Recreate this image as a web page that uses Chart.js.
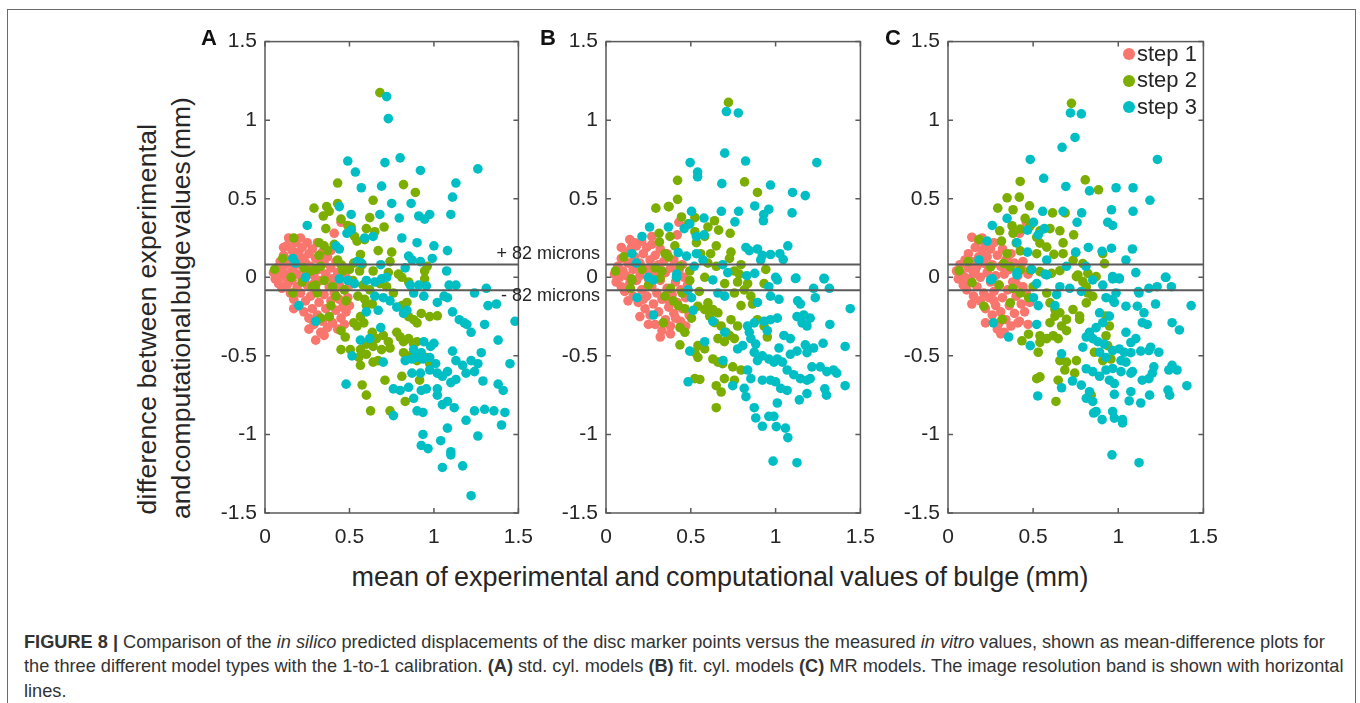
<!DOCTYPE html>
<html><head><meta charset="utf-8">
<script src="https://cdn.jsdelivr.net/npm/chart.js@4/dist/chart.umd.min.js"></script>
<style>
html,body{margin:0;padding:0;background:#fff;}
body{width:1360px;height:703px;overflow:hidden;position:relative;font-family:'Liberation Sans',Arial,sans-serif;color:#262626;}
#frame{position:absolute;left:7px;top:9px;width:1347px;height:740px;border:1.5px solid #6a6a6a;}
.panel{position:absolute;}
.txt{position:absolute;white-space:nowrap;line-height:1;color:#262626;}
.letter{font-weight:bold;font-size:22px;color:#111;}
.band{font-size:18px;text-align:right;width:140px;}
.ytitle{font-size:26.5px;transform:translate(-50%,-50%) rotate(-90deg);}
.xtitle{font-size:27px;word-spacing:-1.3px;transform:translateX(-50%);}
.leg{font-size:22px;}
.dot{position:absolute;width:12px;height:12px;border-radius:50%;}
#caption{position:absolute;left:24px;top:629.5px;font-size:18.2px;line-height:24.5px;color:#333;white-space:nowrap;}
</style></head><body>
<div id="frame"></div>
<div class="panel" id="pA"><canvas id="cA"></canvas></div>
<div class="panel" id="pB"><canvas id="cB"></canvas></div>
<div class="panel" id="pC"><canvas id="cC"></canvas></div>

<div class="txt letter" style="left:201px;top:27px;">A</div>
<div class="txt letter" style="left:540px;top:27px;">B</div>
<div class="txt letter" style="left:885px;top:27px;">C</div>

<div class="txt band" style="left:460px;top:244px;">+ 82 microns</div>
<div class="txt band" style="left:460px;top:286px;">- 82 microns</div>

<div class="txt ytitle" style="left:147px;top:319px;letter-spacing:0.27px;">difference between experimental</div>
<div class="txt ytitle" style="left:181px;top:308px;word-spacing:-5px;">and computational bulge values (mm)</div>
<div class="txt xtitle" style="left:720px;top:564px;">mean of experimental and computational values of bulge (mm)</div>

<div id="legend"></div>

<div id="caption"><b>FIGURE 8 |</b> Comparison of the <i>in silico</i> predicted displacements of the disc marker points versus the measured <i>in vitro</i> values, shown as mean-difference plots for<br>the three different model types with the 1-to-1 calibration. <b>(A)</b> std. cyl. models <b>(B)</b> fit. cyl. models <b>(C)</b> MR models. The image resolution band is shown with horizontal<br>lines.</div>

<script>
// ---------- data ----------
const seriesNames = ['step 1', 'step 2', 'step 3'];
const seriesColors = ['#F8766D', '#7CAE00', '#00BFC4'];
const xTickValues = [0, 0.5, 1, 1.5];
const xTickLabels = ['0', '0.5', '1', '1.5'];
const yTickValues = [-1.5, -1, -0.5, 0, 0.5, 1, 1.5];
const yTickLabels = ['-1.5', '-1', '-0.5', '0', '0.5', '1', '1.5'];
const resolutionBand = [0.082, -0.082];
const bandLabels = ['+ 82 microns', '- 82 microns'];

const panelA_step1 = [[0.05,0.03],[0.06,-0.01],[0.07,0.06],[0.08,0.01],[0.08,-0.04],[0.09,0.1],[0.1,0.04],[0.1,-0.07],[0.11,0.14],[0.12,0.0],[0.12,0.08],[0.13,-0.05],[0.13,0.2],[0.14,0.25],[0.14,0.11],[0.15,-0.1],[0.15,0.03],[0.16,0.17],[0.16,-0.02],[0.17,0.07],[0.17,-0.14],[0.18,0.22],[0.18,0.12],[0.19,-0.06],[0.19,0.02],[0.2,0.16],[0.2,-0.18],[0.21,0.25],[0.21,0.08],[0.21,-0.1],[0.22,-0.01],[0.22,0.19],[0.23,-0.22],[0.23,0.12],[0.24,0.04],[0.24,-0.15],[0.25,0.22],[0.25,-0.05],[0.26,-0.26],[0.26,0.15],[0.27,0.07],[0.27,-0.12],[0.28,-0.2],[0.28,0.18],[0.29,0.01],[0.29,-0.3],[0.3,0.12],[0.3,-0.08],[0.31,-0.24],[0.31,0.22],[0.32,0.05],[0.32,-0.16],[0.33,-0.35],[0.33,-0.02],[0.34,0.16],[0.34,-0.28],[0.35,0.09],[0.35,-0.11],[0.36,-0.2],[0.36,0.02],[0.37,-0.32],[0.37,0.13],[0.38,-0.06],[0.38,-0.25],[0.39,0.06],[0.39,-0.15],[0.4,-0.01],[0.4,-0.29],[0.41,0.28],[0.41,-0.1],[0.42,0.1],[0.42,-0.21],[0.43,-0.33],[0.43,0.03],[0.44,-0.14],[0.44,-0.05],[0.45,0.35],[0.45,-0.26],[0.46,0.07],[0.46,-0.19],[0.47,-0.08],[0.47,-0.3],[0.48,0.0],[0.48,-0.22],[0.49,-0.13],[0.5,-0.18],[0.3,-0.4],[0.35,-0.37],[0.26,-0.33],[0.5,-0.05],[0.11,0.19],[0.17,-0.2],[0.24,0.09],[0.39,0.17],[0.14,-0.01],[0.29,-0.04],[0.42,-0.04],[0.33,0.1]];
const panelA_step2 = [[0.68,1.175],[0.43,0.60],[0.82,0.59],[0.89,0.54],[0.64,0.49],[0.29,0.44],[0.365,0.45],[0.345,0.39],[0.38,0.42],[0.43,0.47],[0.45,0.37],[0.49,0.33],[0.51,0.32],[0.62,0.38],[0.705,0.32],[0.36,0.31],[0.60,0.31],[0.65,0.29],[0.53,0.26],[0.545,0.23],[0.59,0.24],[0.17,0.25],[0.32,0.22],[0.35,0.20],[0.37,0.17],[0.32,0.14],[0.41,0.21],[0.43,0.11],[0.45,0.08],[0.67,0.17],[0.75,0.16],[0.74,0.10],[0.565,0.145],[0.525,0.09],[0.575,0.08],[0.96,0.07],[0.945,0.04],[0.105,0.12],[0.057,0.05],[0.23,0.06],[0.27,0.04],[0.30,0.05],[0.33,0.07],[0.46,0.04],[0.50,0.05],[0.56,0.04],[0.64,0.04],[0.73,0.03],[0.79,0.02],[0.155,0.0],[0.165,-0.10],[0.30,-0.05],[0.31,-0.10],[0.39,-0.18],[0.33,-0.26],[0.38,-0.25],[0.45,-0.34],[0.475,-0.38],[0.45,-0.46],[0.505,-0.46],[0.525,-0.29],[0.545,-0.31],[0.585,-0.29],[0.565,-0.25],[0.60,-0.18],[0.59,-0.14],[0.635,-0.17],[0.635,-0.35],[0.66,-0.39],[0.70,-0.37],[0.73,-0.41],[0.74,-0.45],[0.69,-0.46],[0.64,-0.44],[0.60,-0.425],[0.565,-0.46],[0.60,-0.49],[0.555,-0.51],[0.565,-0.56],[0.64,-0.54],[0.67,-0.53],[0.78,-0.35],[0.80,-0.38],[0.82,-0.41],[0.85,-0.39],[0.88,-0.425],[0.90,-0.41],[0.82,-0.48],[0.86,-0.50],[0.90,-0.53],[0.955,-0.51],[0.975,-0.55],[0.81,-0.18],[0.84,-0.16],[0.85,-0.25],[0.88,-0.27],[0.90,-0.29],[0.925,-0.23],[0.975,-0.25],[1.02,-0.245],[0.945,-0.01],[0.81,0.0],[0.85,-0.03],[0.575,-0.685],[0.60,-0.75],[0.625,-0.85],[0.71,-0.655],[0.81,-0.63],[0.915,-0.655],[0.83,-0.79],[0.74,-0.85],[0.22,-0.03],[0.28,-0.06],[0.35,-0.02],[0.40,-0.06],[0.47,-0.08],[0.52,-0.02],[0.58,-0.05],[0.62,-0.08],[0.68,-0.04],[0.72,-0.06],[0.76,-0.10],[0.55,-0.12],[0.48,-0.15],[0.42,-0.12]];
const panelA_step3 = [[0.72,1.15],[0.73,1.01],[0.49,0.74],[0.71,0.73],[0.80,0.76],[0.535,0.67],[0.92,0.68],[1.26,0.69],[1.13,0.60],[0.57,0.57],[0.69,0.58],[1.11,0.51],[0.75,0.47],[0.865,0.47],[0.44,0.45],[0.51,0.40],[0.68,0.40],[0.795,0.377],[0.91,0.39],[0.945,0.37],[0.975,0.40],[1.10,0.40],[0.25,0.33],[0.485,0.28],[0.51,0.30],[0.59,0.25],[0.64,0.26],[0.81,0.25],[0.90,0.22],[1.0,0.20],[1.08,0.17],[0.44,0.18],[0.42,0.20],[0.85,0.135],[0.87,0.11],[0.92,0.10],[0.99,0.12],[0.545,0.10],[0.57,0.09],[0.165,0.12],[0.18,0.09],[0.685,0.08],[1.075,0.04],[0.83,0.06],[0.24,0.0],[0.20,-0.18],[0.30,-0.28],[0.44,-0.01],[0.49,-0.02],[0.53,-0.04],[0.60,-0.02],[0.65,-0.03],[0.69,-0.01],[0.72,0.0],[0.65,-0.12],[0.70,-0.13],[0.74,-0.15],[0.78,-0.19],[0.82,-0.23],[0.84,-0.21],[0.86,-0.05],[0.91,-0.05],[0.955,-0.055],[0.88,-0.10],[0.94,-0.12],[1.02,-0.16],[1.06,-0.12],[1.08,-0.13],[1.09,-0.05],[1.13,-0.05],[1.11,-0.22],[1.15,-0.27],[1.18,-0.29],[1.195,-0.30],[1.22,-0.35],[1.24,-0.10],[1.31,-0.07],[1.32,-0.18],[1.37,-0.17],[1.30,-0.30],[1.38,-0.40],[1.48,-0.28],[0.60,-0.22],[0.67,-0.21],[0.685,-0.32],[0.565,-0.40],[0.62,-0.39],[0.515,-0.50],[0.70,-0.54],[0.83,-0.53],[0.87,-0.52],[0.90,-0.51],[0.935,-0.52],[0.975,-0.51],[1.01,-0.55],[0.88,-0.46],[0.925,-0.48],[0.98,-0.44],[1.0,-0.42],[0.94,-0.41],[0.87,-0.61],[0.92,-0.61],[0.975,-0.59],[1.02,-0.61],[1.05,-0.63],[1.08,-0.60],[1.10,-0.67],[1.13,-0.65],[1.11,-0.47],[1.13,-0.53],[1.17,-0.56],[1.22,-0.53],[1.26,-0.55],[1.24,-0.60],[1.28,-0.48],[1.19,-0.61],[1.29,-0.66],[1.38,-0.68],[1.41,-0.72],[1.45,-0.55],[0.76,-0.71],[0.80,-0.72],[0.85,-0.70],[0.88,-0.77],[0.925,-0.72],[0.955,-0.71],[1.02,-0.71],[1.02,-0.75],[1.05,-0.81],[1.08,-0.79],[1.12,-0.83],[0.76,-0.88],[0.90,-0.85],[0.935,-0.86],[1.19,-0.91],[1.24,-0.85],[1.30,-0.84],[1.355,-0.85],[1.42,-0.86],[1.40,-0.94],[1.08,-0.96],[0.935,-1.0],[1.26,-1.01],[0.925,-1.07],[0.965,-1.09],[1.04,-1.04],[1.10,-1.11],[1.10,-1.13],[1.17,-1.20],[1.05,-1.21],[1.22,-1.39],[0.48,-0.68]];

const panelB_step1 = [[0.05,0.02],[0.06,-0.03],[0.07,0.07],[0.08,0.0],[0.09,-0.06],[0.09,0.12],[0.1,0.04],[0.11,-0.09],[0.12,0.16],[0.12,0.01],[0.13,0.09],[0.14,-0.04],[0.14,0.24],[0.15,0.19],[0.16,-0.12],[0.16,0.05],[0.17,0.13],[0.18,-0.02],[0.18,0.2],[0.19,-0.16],[0.2,0.09],[0.2,0.01],[0.21,0.23],[0.21,-0.08],[0.22,0.15],[0.23,-0.2],[0.23,0.05],[0.24,-0.12],[0.24,0.19],[0.25,-0.01],[0.26,0.11],[0.26,-0.24],[0.27,-0.06],[0.27,0.21],[0.28,0.03],[0.28,-0.17],[0.29,-0.3],[0.29,0.14],[0.3,-0.1],[0.31,0.08],[0.31,-0.22],[0.32,-0.02],[0.32,0.18],[0.33,-0.34],[0.33,-0.14],[0.34,0.1],[0.35,-0.27],[0.35,0.03],[0.36,-0.07],[0.36,0.15],[0.37,-0.19],[0.38,0.06],[0.38,-0.31],[0.39,-0.11],[0.4,0.11],[0.4,-0.23],[0.41,-0.03],[0.42,0.27],[0.42,-0.16],[0.43,0.35],[0.43,0.04],[0.44,-0.28],[0.44,-0.08],[0.45,-0.2],[0.46,0.0],[0.47,-0.13],[0.47,-0.31],[0.48,-0.05],[0.49,-0.24],[0.25,-0.3],[0.32,-0.38],[0.38,-0.36],[0.2,-0.25],[0.45,0.08],[0.13,-0.15],[0.27,0.26],[0.09,0.19],[0.17,0.22],[0.22,-0.14],[0.3,0.04],[0.36,-0.14],[0.41,-0.26],[0.15,0.09],[0.26,0.06]];
const panelB_step2 = [[0.722,1.113],[0.422,0.617],[0.817,0.607],[0.893,0.54],[0.422,0.496],[0.294,0.44],[0.368,0.45],[0.372,0.45],[0.445,0.384],[0.524,0.38],[0.484,0.34],[0.64,0.36],[0.601,0.32],[0.664,0.30],[0.732,0.28],[0.313,0.28],[0.377,0.26],[0.524,0.29],[0.533,0.22],[0.582,0.26],[0.65,0.20],[0.315,0.225],[0.406,0.2],[0.348,0.15],[0.368,0.13],[0.617,0.15],[0.737,0.16],[0.728,0.12],[0.558,0.15],[0.601,0.09],[0.65,0.07],[0.796,0.08],[0.757,0.04],[0.786,0.02],[0.942,0.05],[0.056,0.04],[0.105,0.13],[0.15,-0.01],[0.212,0.05],[0.29,0.06],[0.33,0.04],[0.436,0.07],[0.494,0.04],[0.153,-0.02],[0.144,-0.07],[0.319,-0.005],[0.338,-0.29],[0.436,-0.32],[0.465,-0.35],[0.436,-0.43],[0.348,-0.12],[0.397,-0.15],[0.426,-0.18],[0.465,-0.20],[0.504,-0.26],[0.542,-0.184],[0.582,-0.205],[0.601,-0.163],[0.63,-0.205],[0.66,-0.226],[0.611,-0.247],[0.64,-0.289],[0.679,-0.31],[0.708,-0.35],[0.728,-0.37],[0.757,-0.39],[0.698,-0.41],[0.66,-0.39],[0.542,-0.435],[0.524,-0.477],[0.542,-0.51],[0.582,-0.456],[0.63,-0.52],[0.66,-0.54],[0.688,-0.55],[0.524,-0.645],[0.553,-0.65],[0.698,-0.645],[0.757,-0.655],[0.65,-0.69],[0.679,-0.73],[0.65,-0.83],[0.747,-0.57],[0.796,-0.59],[0.737,-0.27],[0.776,-0.31],[0.796,-0.18],[0.854,-0.12],[0.864,-0.17],[0.757,-0.10],[0.815,-0.08],[0.835,-0.04],[0.776,-0.03],[0.932,-0.04],[0.893,-0.27],[0.932,-0.31],[0.951,-0.38],[0.416,0.0],[0.494,-0.02],[0.582,0.0],[0.70,-0.04],[0.25,-0.05],[0.38,-0.07],[0.55,-0.09],[0.45,-0.1]];
const panelB_step3 = [[0.71,1.055],[0.78,1.046],[0.70,0.79],[0.496,0.73],[0.823,0.74],[1.243,0.73],[0.54,0.67],[0.54,0.64],[0.683,0.596],[0.97,0.587],[1.10,0.54],[1.175,0.52],[0.504,0.42],[0.877,0.454],[0.96,0.433],[0.93,0.40],[0.928,0.36],[0.782,0.42],[1.097,0.41],[0.68,0.42],[0.578,0.377],[0.76,0.353],[0.257,0.32],[0.368,0.32],[0.461,0.31],[0.494,0.34],[0.212,0.26],[0.533,0.26],[0.578,0.27],[0.825,0.19],[0.845,0.17],[0.893,0.18],[1.072,0.2],[0.922,0.14],[0.97,0.145],[1.025,0.15],[1.045,0.113],[0.912,0.11],[0.426,0.157],[0.475,0.135],[0.533,0.15],[0.572,0.11],[0.153,0.15],[0.179,0.09],[0.688,0.08],[0.718,0.03],[0.83,0.01],[0.877,0.025],[1.0,0.0],[1.12,-0.005],[1.286,-0.01],[0.25,0.0],[0.417,0.02],[0.52,0.07],[0.28,-0.017],[0.183,-0.13],[0.28,-0.24],[0.416,0.0],[0.484,-0.08],[0.504,-0.13],[0.514,-0.21],[0.494,-0.47],[0.582,-0.41],[0.63,-0.017],[0.66,-0.10],[0.70,-0.12],[0.63,-0.28],[0.70,-0.35],[0.69,-0.53],[0.747,-0.69],[0.484,-0.665],[0.776,-0.456],[0.806,-0.435],[0.845,-0.35],[0.854,-0.39],[0.883,-0.425],[0.874,-0.477],[0.893,-0.53],[0.922,-0.50],[0.96,-0.52],[0.99,-0.54],[0.835,-0.31],[0.874,-0.29],[0.932,-0.28],[0.951,-0.34],[0.97,-0.27],[1.01,-0.26],[0.893,-0.16],[0.97,-0.12],[1.02,-0.14],[1.01,-0.017],[0.96,-0.06],[1.117,-0.008],[1.13,-0.15],[1.146,-0.17],[1.126,-0.25],[1.166,-0.24],[1.156,-0.29],[1.185,-0.31],[1.204,-0.26],[1.224,-0.07],[1.234,-0.13],[1.286,-0.006],[1.317,-0.07],[1.32,-0.30],[1.44,-0.20],[1.41,-0.44],[1.28,-0.42],[1.049,-0.37],[1.087,-0.39],[1.02,-0.45],[1.087,-0.49],[1.126,-0.47],[1.175,-0.43],[1.185,-0.48],[1.224,-0.45],[1.214,-0.57],[1.263,-0.57],[1.302,-0.60],[1.341,-0.59],[1.36,-0.61],[1.41,-0.69],[1.01,-0.52],[1.04,-0.54],[1.068,-0.59],[1.107,-0.62],[1.146,-0.645],[1.185,-0.655],[1.204,-0.645],[0.835,-0.59],[0.854,-0.645],[0.815,-0.707],[0.825,-0.76],[0.874,-0.83],[0.883,-0.895],[0.922,-0.948],[0.922,-0.655],[0.97,-0.655],[1.0,-0.665],[1.03,-0.707],[1.068,-0.72],[1.01,-0.80],[0.96,-0.885],[0.99,-0.885],[1.14,-0.78],[1.185,-0.74],[1.29,-0.71],[1.30,-0.75],[1.004,-0.95],[1.058,-0.96],[1.072,-1.02],[0.985,-1.17],[1.126,-1.18]];

const panelC_step1 = [[0.05,0.04],[0.06,-0.01],[0.07,0.08],[0.08,0.02],[0.09,-0.05],[0.1,0.11],[0.1,0.0],[0.11,-0.08],[0.12,0.06],[0.12,0.15],[0.13,-0.03],[0.14,0.255],[0.14,0.1],[0.15,-0.12],[0.15,0.02],[0.16,0.19],[0.17,0.07],[0.17,-0.06],[0.18,0.23],[0.18,0.13],[0.19,-0.15],[0.19,0.0],[0.2,0.17],[0.21,0.09],[0.21,-0.1],[0.22,0.21],[0.22,-0.2],[0.23,0.03],[0.23,0.13],[0.24,-0.13],[0.25,0.18],[0.25,-0.03],[0.26,-0.24],[0.26,0.08],[0.27,0.22],[0.27,-0.09],[0.28,0.01],[0.28,-0.18],[0.29,0.14],[0.3,-0.29],[0.3,-0.05],[0.31,0.07],[0.31,-0.22],[0.32,0.18],[0.32,-0.13],[0.33,-0.35],[0.33,0.02],[0.34,0.11],[0.34,-0.27],[0.35,-0.08],[0.36,0.05],[0.36,-0.18],[0.37,0.15],[0.37,-0.31],[0.38,-0.03],[0.39,-0.23],[0.39,0.09],[0.4,-0.12],[0.41,0.01],[0.42,0.28],[0.42,-0.28],[0.43,-0.17],[0.43,0.06],[0.44,-0.06],[0.45,-0.22],[0.46,0.35],[0.46,-0.1],[0.47,0.02],[0.47,-0.3],[0.48,-0.16],[0.22,-0.29],[0.31,-0.36],[0.41,-0.29],[0.14,-0.17],[0.2,0.25],[0.44,0.1],[0.29,-0.33],[0.16,0.04],[0.24,0.06],[0.35,0.13],[0.27,-0.15],[0.4,-0.04]];
const panelC_step2 = [[0.725,1.107],[0.424,0.61],[0.806,0.62],[0.884,0.557],[0.347,0.506],[0.419,0.51],[0.292,0.44],[0.382,0.43],[0.479,0.455],[0.614,0.41],[0.688,0.41],[0.453,0.375],[0.376,0.328],[0.424,0.307],[0.483,0.328],[0.54,0.296],[0.599,0.31],[0.657,0.296],[0.738,0.27],[0.304,0.296],[0.382,0.28],[0.314,0.23],[0.401,0.219],[0.347,0.15],[0.424,0.168],[0.521,0.255],[0.54,0.217],[0.58,0.192],[0.676,0.219],[0.521,0.15],[0.622,0.146],[0.676,0.15],[0.75,0.157],[0.735,0.108],[0.792,0.087],[0.919,0.087],[0.909,0.15],[0.182,0.24],[0.118,0.10],[0.066,0.042],[0.25,0.067],[0.327,0.088],[0.366,0.067],[0.424,0.046],[0.483,0.046],[0.54,0.036],[0.608,0.025],[0.657,0.042],[0.763,0.015],[0.821,0.025],[0.141,-0.034],[0.211,-0.184],[0.318,-0.268],[0.366,-0.163],[0.424,-0.10],[0.473,-0.13],[0.434,-0.404],[0.473,-0.362],[0.54,-0.414],[0.53,-0.477],[0.54,-0.372],[0.58,-0.39],[0.618,-0.372],[0.647,-0.39],[0.599,-0.289],[0.628,-0.247],[0.667,-0.31],[0.696,-0.34],[0.58,-0.10],[0.599,-0.163],[0.628,-0.205],[0.657,-0.226],[0.696,-0.268],[0.734,-0.205],[0.773,-0.247],[0.812,-0.163],[0.821,-0.10],[0.85,-0.121],[0.792,-0.027],[0.812,-0.06],[0.87,0.004],[0.754,0.004],[0.657,-0.53],[0.696,-0.54],[0.686,-0.59],[0.754,-0.53],[0.744,-0.61],[0.647,-0.655],[0.54,-0.634],[0.521,-0.645],[0.634,-0.79],[0.928,-0.247],[0.948,-0.31],[0.928,-0.372],[0.938,-0.435],[0.957,-0.52],[0.909,-0.53],[0.86,-0.477],[0.841,-0.75],[0.773,-0.268],[0.3,-0.05],[0.38,-0.07],[0.5,-0.06]];
const panelC_step3 = [[0.719,1.046],[0.783,1.04],[0.746,0.89],[0.67,0.827],[0.483,0.75],[1.23,0.75],[0.562,0.63],[0.692,0.578],[0.831,0.55],[0.987,0.57],[1.087,0.57],[1.186,0.49],[0.556,0.42],[0.676,0.42],[0.785,0.41],[0.96,0.43],[1.087,0.42],[0.347,0.375],[0.26,0.33],[0.502,0.35],[0.467,0.30],[0.566,0.31],[0.53,0.27],[0.758,0.35],[0.938,0.35],[0.967,0.33],[0.405,0.22],[0.467,0.16],[0.23,0.23],[0.824,0.19],[0.905,0.165],[0.96,0.185],[1.083,0.18],[1.045,0.11],[1.103,0.03],[1.277,0.0],[0.75,0.16],[0.81,0.07],[0.58,0.11],[0.696,0.07],[0.57,0.02],[0.182,0.11],[0.26,-0.01],[0.405,0.03],[0.492,0.05],[0.967,-0.01],[1.006,-0.01],[0.25,-0.017],[0.405,0.015],[0.521,-0.04],[0.502,-0.13],[0.53,-0.18],[0.266,-0.29],[0.356,-0.38],[0.521,-0.30],[0.483,-0.435],[0.58,0.015],[0.657,-0.06],[0.638,-0.11],[0.628,-0.18],[0.715,-0.07],[0.783,-0.09],[0.85,-0.017],[0.909,-0.05],[0.928,-0.13],[0.967,0.005],[1.006,-0.005],[0.987,-0.1],[0.977,-0.16],[0.89,-0.226],[0.948,-0.247],[0.909,-0.289],[0.87,-0.32],[0.831,-0.35],[0.812,-0.38],[0.792,-0.445],[0.85,-0.39],[0.88,-0.41],[0.918,-0.425],[0.89,-0.477],[0.928,-0.51],[0.967,-0.466],[1.006,-0.456],[1.035,-0.477],[1.074,-0.48],[1.132,-0.47],[1.18,-0.466],[1.238,-0.477],[1.016,-0.53],[1.045,-0.54],[1.045,-0.35],[1.074,-0.415],[1.103,-0.39],[1.19,-0.445],[0.967,-0.142],[1.045,-0.184],[1.122,-0.10],[1.112,-0.184],[1.141,-0.289],[1.17,-0.30],[1.151,-0.226],[1.219,-0.17],[1.316,-0.289],[1.359,-0.335],[1.428,-0.18],[1.28,0.0],[1.312,-0.06],[1.18,-0.07],[1.228,-0.06],[1.118,-0.09],[0.667,-0.487],[0.812,-0.582],[0.85,-0.60],[0.89,-0.63],[0.928,-0.59],[0.967,-0.58],[1.016,-0.60],[1.074,-0.61],[1.083,-0.60],[1.141,-0.655],[1.18,-0.645],[1.2,-0.61],[1.209,-0.57],[1.297,-0.59],[1.316,-0.56],[1.345,-0.59],[1.403,-0.69],[0.667,-0.703],[0.731,-0.66],[0.783,-0.686],[0.831,-0.728],[0.812,-0.77],[0.85,-0.79],[0.948,-0.655],[0.977,-0.676],[0.977,-0.745],[1.074,-0.728],[1.064,-0.787],[1.132,-0.80],[1.184,-0.75],[1.292,-0.718],[1.302,-0.75],[0.527,-0.755],[0.855,-0.864],[0.87,-0.854],[0.905,-0.906],[0.967,-0.854],[0.977,-0.896],[1.025,-0.906],[1.025,-0.927],[0.963,-1.13],[1.122,-1.18]];

// ---------- drawing ----------
Chart.defaults.font.family = "'Liberation Sans', Arial, sans-serif";

const boxPlugin = {
  id: 'matlabBox',
  afterDatasetsDraw(chart) {
    const {ctx, chartArea: a, scales: {x, y}} = chart;
    ctx.save();
    ctx.strokeStyle = '#5a5a5a';
    ctx.lineWidth = 1.5;
    ctx.strokeRect(a.left, a.top, a.right - a.left, a.bottom - a.top);
    const L = 5;
    ctx.beginPath();
    xTickValues.forEach(v => {
      const px = x.getPixelForValue(v);
      ctx.moveTo(px, a.bottom); ctx.lineTo(px, a.bottom - L);
      ctx.moveTo(px, a.top); ctx.lineTo(px, a.top + L);
    });
    yTickValues.forEach(v => {
      const py = y.getPixelForValue(v);
      ctx.moveTo(a.left, py); ctx.lineTo(a.left + L, py);
      ctx.moveTo(a.right, py); ctx.lineTo(a.right - L, py);
    });
    ctx.stroke();
    ctx.restore();
  }
};

function toXY(arr) { return arr.map(p => ({x: p[0], y: p[1]})); }

function makePanel(divId, canvasId, plotLeft, plotWidth, series) {
  const yAxisW = 62, padTop = 14, padRight = 24, xAxisH = 42;
  const W = plotWidth + yAxisW + padRight;
  const H = 478 + padTop + xAxisH;
  const div = document.getElementById(divId);
  div.style.left = (plotLeft - yAxisW) + 'px';
  div.style.top = (35 - padTop) + 'px';
  const cv = document.getElementById(canvasId);
  cv.width = W; cv.height = H;
  cv.style.width = W + 'px'; cv.style.height = H + 'px';

  const datasets = [];
  resolutionBand.forEach(v => {
    datasets.push({
      label: 'band', data: [{x: 0, y: v}, {x: 1.5, y: v}], showLine: true,
      borderColor: '#5a5a5a', borderWidth: 2, pointRadius: 0, order: 0
    });
  });
  series.forEach((s, i) => {
    datasets.push({
      label: seriesNames[i], data: toXY(s), backgroundColor: seriesColors[i],
      borderWidth: 0, pointRadius: 4.8, pointHoverRadius: 4.8, order: 3 - i
    });
  });

  new Chart(cv, {
    type: 'scatter',
    data: {datasets},
    options: {
      responsive: false, animation: false, devicePixelRatio: 1, events: [],
      layout: {padding: {top: padTop, right: padRight, left: 0, bottom: 0}},
      plugins: {legend: {display: false}, tooltip: {enabled: false}},
      scales: {
        x: {
          type: 'linear', min: 0, max: 1.5,
          grid: {display: false, drawTicks: false}, border: {display: false},
          afterFit: s => { s.height = xAxisH; },
          afterBuildTicks: s => { s.ticks = xTickValues.map(v => ({value: v})); },
          ticks: {
            padding: 12, color: '#262626', font: {size: 21},
            maxRotation: 0, autoSkip: false,
            callback: v => xTickLabels[xTickValues.findIndex(t => Math.abs(t - v) < 1e-9)]
          }
        },
        y: {
          type: 'linear', min: -1.5, max: 1.5,
          grid: {display: false, drawTicks: false}, border: {display: false},
          afterFit: s => { s.width = yAxisW; },
          afterBuildTicks: s => { s.ticks = yTickValues.map(v => ({value: v})); },
          ticks: {
            padding: 8, color: '#262626', font: {size: 21}, autoSkip: false,
            callback: v => yTickLabels[yTickValues.findIndex(t => Math.abs(t - v) < 1e-9)]
          }
        }
      }
    },
    plugins: [boxPlugin]
  });
}

makePanel('pA', 'cA', 265, 256, [panelA_step1, panelA_step2, panelA_step3]);
makePanel('pB', 'cB', 606, 257, [panelB_step1, panelB_step2, panelB_step3]);
makePanel('pC', 'cC', 948, 258, [panelC_step1, panelC_step2, panelC_step3]);

// legend (HTML, real text)
const leg = document.getElementById('legend');
seriesNames.forEach((name, i) => {
  const cy = 54 + i * 26.5;
  const d = document.createElement('div');
  d.className = 'dot';
  d.style.background = seriesColors[i];
  d.style.left = (1129 - 6) + 'px';
  d.style.top = (cy - 6) + 'px';
  leg.appendChild(d);
  const t = document.createElement('div');
  t.className = 'txt leg';
  t.textContent = name;
  t.style.left = '1137px';
  t.style.top = (cy - 11.5) + 'px';
  leg.appendChild(t);
});
</script>
</body></html>
